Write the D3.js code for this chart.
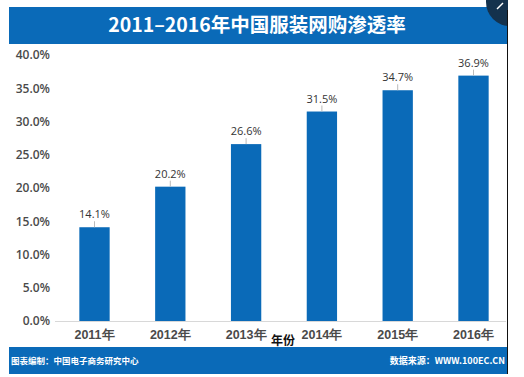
<!DOCTYPE html>
<html>
<head>
<meta charset="utf-8">
<script src="https://cdn.jsdelivr.net/npm/d3@7"></script>
<style>
body { margin: 0; background: #fff; }
svg { display: block; font-family: "Noto Sans CJK SC", "DejaVu Sans", sans-serif; }
</style>
</head>
<body>
<div class="container"></div>
<script>
var years = ['2011年', '2012年', '2013年', '2014年', '2015年', '2016年'];
var rates = [14.1, 20.2, 26.6, 31.5, 34.7, 36.9];
var yTicks = [0, 5, 10, 15, 20, 25, 30, 35, 40];

const WIDTH = 524;
const HEIGHT = 377;
const BLUE = '#0a6ab8';

var svg = d3.select('.container').append('svg')
    .attr('width', WIDTH)
    .attr('height', HEIGHT);

// scales
var xScale = d3.scaleBand()
    .domain(years)
    .range([56.6, 511.4])
    .paddingInner(0.6)
    .paddingOuter(0.3);

var yScale = d3.scaleLinear()
    .domain([0, 40])
    .range([321, 55]);

// title bar
svg.append('rect')
    .attr('x', 9).attr('y', 7)
    .attr('width', 498).attr('height', 37)
    .attr('fill', BLUE);

// corner curl
svg.append('clipPath').attr('id', 'cc')
    .append('rect').attr('x', 0).attr('y', 0).attr('width', 508).attr('height', 377);
svg.append('circle')
    .attr('clip-path', 'url(#cc)')
    .attr('cx', 510).attr('cy', 2).attr('r', 24)
    .attr('fill', '#14324d');
svg.append('line')
    .attr('x1', 497).attr('y1', 9).attr('x2', 503).attr('y2', 3)
    .attr('stroke', '#fff').attr('stroke-width', 1.5);

svg.append('text')
    .attr('x', 257).attr('y', 32)
    .attr('text-anchor', 'middle')
    .attr('fill', '#fff')
    .attr('font-size', 19.5)
    .attr('font-weight', 'bold')
    .text('2011–2016年中国服装网购渗透率');

// right border
svg.append('line')
    .attr('x1', 507.5).attr('y1', 10).attr('x2', 507.5).attr('y2', 374)
    .attr('stroke', '#111').attr('stroke-width', 1);

// y axis labels
var yAxis = d3.axisLeft(yScale)
    .tickValues(yTicks)
    .tickSize(0)
    .tickPadding(0)
    .tickFormat(function(d){ return d.toFixed(1) + '%'; });

var yg = svg.append('g')
    .attr('transform', 'translate(50,0)')
    .call(yAxis);
yg.select('.domain').remove();
yg.selectAll('text')
    .attr('font-size', 12)
    .attr('font-family', '"Open Sans", "DejaVu Sans", sans-serif')
    .attr('font-weight', 600)
    .attr('fill', '#4a4a4a');

// baseline
svg.append('line')
    .attr('x1', 55).attr('x2', 506)
    .attr('y1', yScale(0) + 0.5).attr('y2', yScale(0) + 0.5)
    .attr('stroke', '#d8d8d8');

// bars
var g = svg.append('g');
g.selectAll('rect').data(rates)
    .enter().append('rect')
    .attr('x', function(d, i){ return xScale(years[i]); })
    .attr('y', function(d){ return yScale(d); })
    .attr('width', xScale.bandwidth())
    .attr('height', function(d){ return yScale(0) - yScale(d); })
    .attr('fill', BLUE);

// leader lines + value labels
g.selectAll('line.lead').data(rates)
    .enter().append('line')
    .attr('class', 'lead')
    .attr('x1', function(d, i){ return xScale(years[i]) + xScale.bandwidth() / 2; })
    .attr('x2', function(d, i){ return xScale(years[i]) + xScale.bandwidth() / 2; })
    .attr('y1', function(d){ return yScale(d) - 6; })
    .attr('y2', function(d){ return yScale(d); })
    .attr('stroke', '#bbb');

g.selectAll('text.val').data(rates)
    .enter().append('text')
    .attr('class', 'val')
    .attr('x', function(d, i){ return xScale(years[i]) + xScale.bandwidth() / 2; })
    .attr('y', function(d){ return yScale(d) - 9; })
    .attr('text-anchor', 'middle')
    .attr('font-size', 11)
    .attr('font-family', '"Open Sans", "DejaVu Sans", sans-serif')
    .attr('fill', '#333')
    .text(function(d){ return d.toFixed(1) + '%'; });

// x axis labels
var xAxis = d3.axisBottom(xScale).tickSize(0).tickPadding(0);
var xg = svg.append('g')
    .attr('transform', 'translate(0,330)')
    .call(xAxis);
xg.select('.domain').remove();
xg.selectAll('text')
    .attr('font-size', 12.5)
    .attr('font-weight', 600)
    .attr('fill', '#4a4a4a');

svg.append('text')
    .attr('x', 283).attr('y', 345)
    .attr('text-anchor', 'middle')
    .attr('font-size', 12)
    .attr('font-weight', 'bold')
    .attr('fill', '#111')
    .text('年份');

// footer
svg.append('rect')
    .attr('x', 9).attr('y', 347)
    .attr('width', 498).attr('height', 27)
    .attr('fill', BLUE);

svg.append('text')
    .attr('x', 11).attr('y', 364)
    .attr('font-size', 8.5)
    .attr('font-weight', 'bold')
    .attr('fill', '#fff')
    .text('图表编制：中国电子商务研究中心');

svg.append('text')
    .attr('x', 505).attr('y', 364)
    .attr('text-anchor', 'end')
    .attr('font-size', 9)
    .attr('font-weight', 'bold')
    .attr('fill', '#fff')
    .text('数据来源：WWW.100EC.CN');
</script>
</body>
</html>
